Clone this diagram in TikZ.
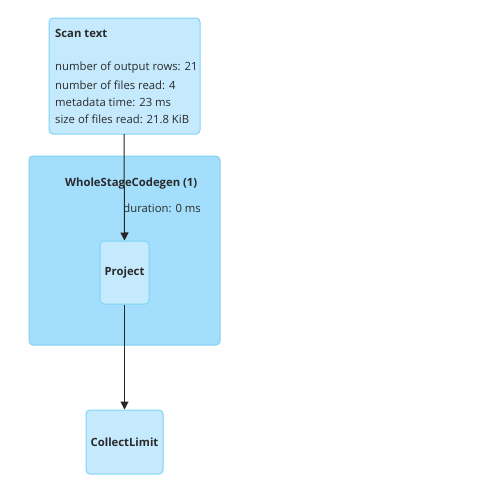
\documentclass[tikz,border=0pt]{standalone}
\usepackage{fontspec}
\setmainfont{Open Sans}
\usetikzlibrary{arrows.meta}
\definecolor{nodefill}{HTML}{C5EAFD}
\definecolor{nodeline}{HTML}{7FD3F5}
\definecolor{clusterfill}{HTML}{A3DFFD}
\definecolor{clusterline}{HTML}{82D0F2}
\definecolor{textcol}{HTML}{2A2A2A}
\tikzset{
  opbox/.style={draw=nodeline, fill=nodefill, line width=1pt, rounded corners=4pt, inner sep=0pt},
  clusterbox/.style={draw=clusterline, fill=clusterfill, line width=1pt, rounded corners=4pt},
  lbl/.style={font=\fontsize{11.3}{13}\selectfont, text=textcol, inner sep=0pt},
  blbl/.style={font=\fontsize{11.3}{13}\selectfont\bfseries, text=textcol, inner sep=0pt},
  edge/.style={draw=black!85, line width=1pt, -{Triangle[length=8pt,width=8pt]}}
}
\begin{document}
\begin{tikzpicture}[x=1pt,y=-1pt]
\useasboundingbox (0,0) rectangle (485,482);
\fill[white] (0,0) rectangle (485,482);
% cluster
\draw[clusterbox] (29,156) rectangle (220,345);
\node[blbl, anchor=west] (wsc) at (65,184) {WholeStageCodegen (1)};
\node[lbl, anchor=east] (dur) at (201,208) {duration: 0 ms};
% scan node
\draw[opbox] (49,18) rectangle (200,134);
\coordinate (scanb) at (124,134);
\node[blbl, anchor=west] (scant) at (55,33) {Scan text};
\node[lbl, anchor=west] (l1) at (55,68) {number of output rows: 21};
\node[lbl, anchor=west] (l2) at (55,85) {number of files read: 4};
\node[lbl, anchor=west] (l3) at (55,102) {metadata time: 23 ms};
\node[lbl, anchor=west] (l4) at (55,119) {size of files read: 21.8 KiB};
% project
\node[opbox, minimum width=49pt, minimum height=63pt] (proj) at (124.5,272.5) {};
\node[blbl] (projt) at (proj.center) {Project};
% collect limit
\node[opbox, minimum width=77pt, minimum height=64pt] (cl) at (124.5,442) {};
\node[blbl] (clt) at (cl.center) {CollectLimit};
% edges
\draw[edge] (scanb) -- (proj.north);
\draw[edge] (proj.south) -- (cl.north);
\end{tikzpicture}
\end{document}
